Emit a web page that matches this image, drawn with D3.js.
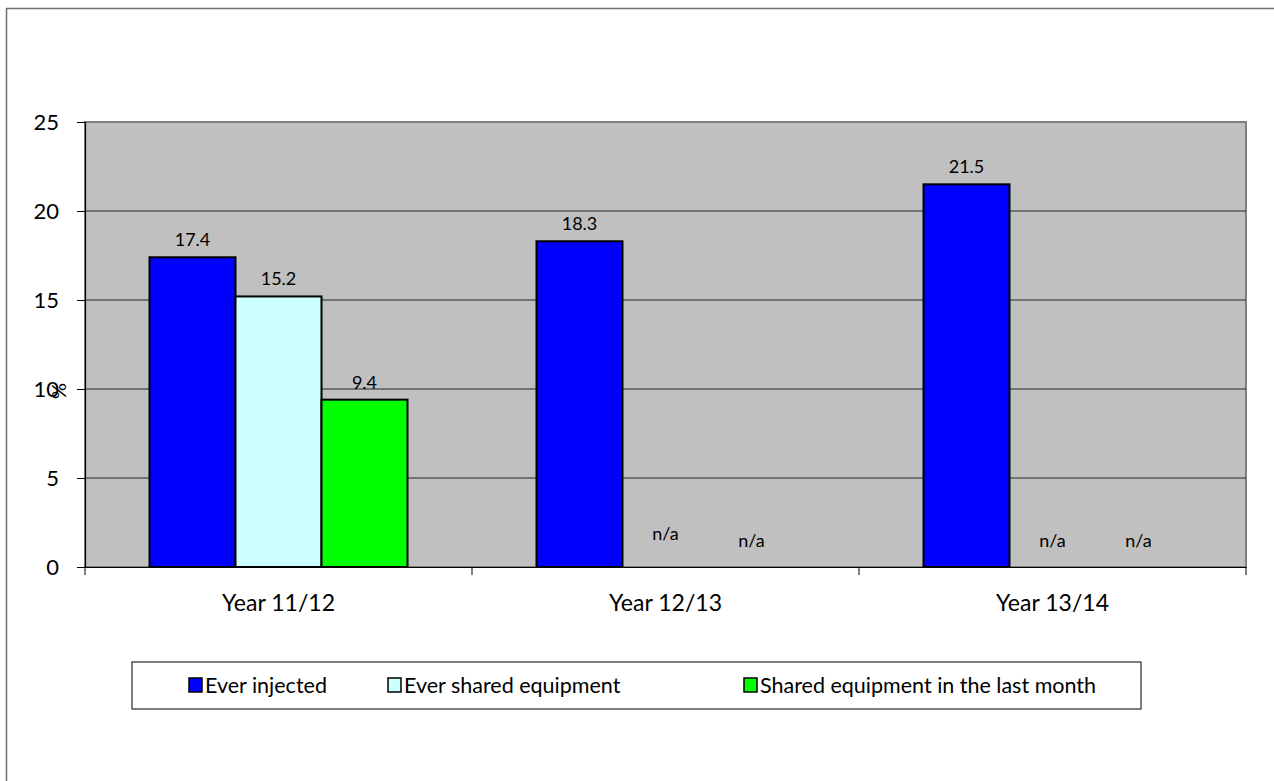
<!DOCTYPE html>
<html>
<head>
<meta charset="utf-8">
<script src="https://cdn.jsdelivr.net/npm/d3@7"></script>
<style>
body{margin:0;background:#fff;}
svg{display:block;font-family:Lato,'Open Sans',sans-serif;}
</style>
</head>
<body>
<svg id="chart" width="1274" height="781"></svg>
<script>
// data ------------------------------------------
var years = ['Year 11/12','Year 12/13','Year 13/14'];
var seriesNames = ['Ever injected','Ever shared equipment','Shared equipment in the last month'];
var everInjected = [17.4, 18.3, 21.5];
var everShared = [15.2, null, null];
var sharedLastMonth = [9.4, null, null];
// where the n/a text sits (in % units) when a value is missing
var naLevel = [[0,0],[0.9,0.5],[0.5,0.5]];
var yTicks = [0,5,10,15,20,25];

var colours = ['#0000FF','#CCFFFF','#00FF00'];
var seriesValues = [everInjected, everShared, sharedLastMonth];

var svg = d3.select('#chart');

// outer chart border (runs off the page right/bottom)
svg.append('rect')
.attr('x',6.5).attr('y',8.5)
.attr('width',1320).attr('height',820)
.attr('fill','none')
.attr('stroke','#6e6e6e')
.attr('stroke-width',1.5);

var pLeft = 85, pRight = 1246, pTop = 122, pBottom = 567;

var xScale = d3.scaleBand()
.domain(years)
.range([pLeft,pRight])
.paddingInner(0)
.paddingOuter(0);

var inner = d3.scaleBand()
.domain(d3.range(seriesNames.length))
.range([0,xScale.bandwidth()])
.paddingOuter(0.75)
.paddingInner(0);

var yScale = d3.scaleLinear()
.domain([0,25])
.range([pBottom,pTop]);

// plot area
svg.append('rect')
.attr('x',pLeft).attr('y',pTop)
.attr('width',pRight-pLeft).attr('height',pBottom-pTop)
.attr('fill','#C0C0C0')
.attr('stroke','#808080')
.attr('stroke-width',2);

// gridlines
svg.append('g')
.selectAll('line')
.data(yTicks.filter(d=>d>0 && d<25))
.enter()
.append('line')
.attr('x1',pLeft).attr('x2',pRight)
.attr('y1',d=>yScale(d)).attr('y2',d=>yScale(d))
.attr('stroke','#000')
.attr('stroke-width',0.8);

// y axis
var yAxis = svg.append('g')
.attr('transform','translate('+pLeft+',0)')
.call(d3.axisLeft(yScale).tickValues(yTicks).tickSize(8).tickPadding(18));
yAxis.attr('font-family',null);
yAxis.select('.domain').attr('stroke','#000').attr('stroke-width',1.2);
yAxis.selectAll('.tick line').attr('stroke','#000');
yAxis.selectAll('text').style('font-size','22px').attr('fill','#000');

// x axis
var xAxis = svg.append('g')
.attr('transform','translate(0,'+pBottom+')')
.call(d3.axisBottom(xScale).tickSize(0).tickPadding(28));
xAxis.attr('font-family',null);
xAxis.select('.domain').attr('stroke','#000').attr('stroke-width',1.2);
xAxis.selectAll('text').style('font-size','23px').attr('fill','#000');

svg.append('g')
.selectAll('line')
.data(d3.range(years.length+1))
.enter()
.append('line')
.attr('x1',d=>pLeft+d*xScale.bandwidth())
.attr('x2',d=>pLeft+d*xScale.bandwidth())
.attr('y1',pBottom).attr('y2',pBottom+8)
.attr('stroke','#000');

// bars
var groups = svg.selectAll('.year')
.data(years)
.enter()
.append('g')
.attr('class','year')
.attr('transform',d=>'translate('+xScale(d)+',0)');

groups.each(function(year,yi){
	var g = d3.select(this);
	seriesValues.forEach(function(vals,si){
		var v = vals[yi];
		var cx = inner(si)+inner.bandwidth()/2;
		if(v!=null){
			g.append('rect')
			.attr('x',inner(si))
			.attr('y',yScale(v))
			.attr('width',inner.bandwidth())
			.attr('height',pBottom-yScale(v))
			.attr('fill',colours[si])
			.attr('stroke','#000')
			.attr('stroke-width',2);
			g.append('text')
			.text(v.toFixed(1))
			.attr('x',cx)
			.attr('y',yScale(v)-11)
			.attr('text-anchor','middle')
			.style('font-size','18px');
		}else{
			g.append('text')
			.text('n/a')
			.attr('x',cx)
			.attr('y',yScale(naLevel[yi][si-1])-11)
			.attr('text-anchor','middle')
			.style('font-size','18px');
		}
	});
});

// y title
svg.append('text')
.text('%')
.attr('transform','translate(66,391) rotate(-90)')
.attr('text-anchor','middle')
.style('font-size','20px');

// legend
var legend = svg.append('g');
legend.append('rect')
.attr('x',132).attr('y',662)
.attr('width',1009).attr('height',47)
.attr('fill','#fff')
.attr('stroke','#000')
.attr('stroke-width',1);

var legendX = [189,388,744];
var items = legend.selectAll('.item')
.data(seriesNames)
.enter()
.append('g')
.attr('transform',(d,i)=>'translate('+legendX[i]+',678)');

items.append('rect')
.attr('width',13).attr('height',14)
.attr('fill',(d,i)=>colours[i])
.attr('stroke','#000')
.attr('stroke-width',1.5);

items.append('text')
.text(d=>d)
.attr('x',16)
.attr('y',15)
.style('font-size','21.5px');
</script>
</body>
</html>
